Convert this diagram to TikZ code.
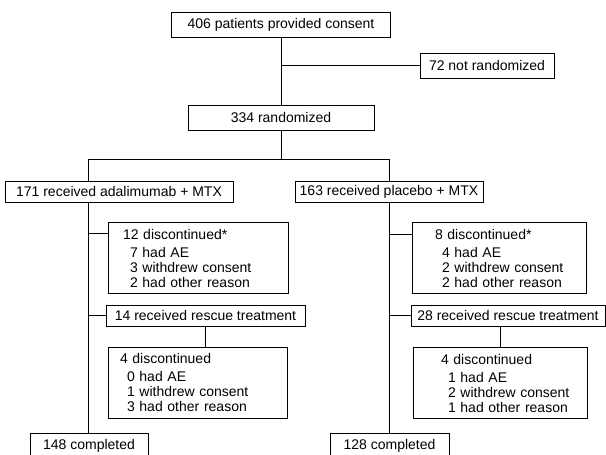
\documentclass[tikz,border=0pt]{standalone}
\usepackage{fontspec}
\setmainfont{Liberation Sans}
\usetikzlibrary{positioning}
\newcommand{\ind}[1]{\mbox{\hspace*{7pt}#1}}

\begin{document}
\begin{tikzpicture}[x=1pt,y=-1pt,line width=0.8pt,
  font=\fontsize{14}{15}\selectfont,
  box/.style={draw,inner sep=0pt,minimum height=21pt},
  disc/.style={draw,align=left,inner ysep=0pt,minimum height=71pt}]
\useasboundingbox (0,0) rectangle (606,455);
% top of the chart
\node[box,minimum width=219pt,minimum height=25pt] (consent) at (281,24.5) {406 patients provided consent};
\node[box,minimum width=134pt,minimum height=25pt] (notrand) at (487,65.5) {72 not randomized};
\node[box,minimum width=186pt,minimum height=25pt] (rand) at (281,117.5) {334 randomized};
\coordinate (split) at (281,159);
\coordinate (trA) at (88,159);
\coordinate (trB) at (389,159);
% two arms
\node[box,minimum width=228pt] (ada) at (119,191.5) {171 received adalimumab + MTX};
\node[box,minimum width=188pt] (plac) at (389,191.5) {163 received placebo + MTX};
\node[disc,minimum width=180pt,text width=150pt,inner xsep=15pt] (discA) at (198,258)
  {12 discontinued*\\[3pt]\ind{7 had AE}\\\ind{3 withdrew consent}\\\ind{2 had other reason}};
\node[box,minimum width=199pt] (rescA) at (205.5,315.5) {14 received rescue treatment};
\node[disc,minimum width=179pt,text width=155pt,inner xsep=12pt] (discAA) at (197.5,382.5)
  {4 discontinued\\[3pt]\ind{0 had AE}\\\ind{1 withdrew consent}\\\ind{3 had other reason}};
\node[box,minimum width=118pt,minimum height=26pt] (compA) at (89,446) {148 completed};
\node[disc,minimum width=174pt,text width=128pt,inner xsep=23pt] (discB) at (499,258)
  {8 discontinued*\\[3pt]\ind{4 had AE}\\\ind{2 withdrew consent}\\\ind{2 had other reason}};
\node[box,minimum width=194pt] (rescB) at (508,315.5) {28 received rescue treatment};
\node[disc,minimum width=174pt,text width=118pt,inner xsep=28pt] (discBB) at (500,383)
  {4 discontinued\\[3pt]\ind{1 had AE}\\\ind{2 withdrew consent}\\\ind{1 had other reason}};
\node[box,minimum width=119pt,minimum height=26pt] (compB) at (389.5,446) {128 completed};
% connectors
\draw (consent.south) -- (rand.north);
\draw (consent.south |- notrand.west) -- (notrand.west);
\draw (rand.south) -- (split);
\draw (trA |- ada.north) -- (trA) -- (trB) -- (trB |- plac.north);
\draw (trA |- ada.south) -- (trA |- compA.north);
\draw (trB |- plac.south) -- (trB |- compB.north);
\draw (trA |- discA.165) -- (discA.165);
\draw (trA |- rescA.west) -- (rescA.west);
\draw (rescA.south) -- (rescA.south |- discAA.north);
\draw (trB |- discB.165) -- (discB.165);
\draw (trB |- rescB.west) -- (rescB.west);
\draw (discBB.north |- rescB.south) -- (discBB.north);
\end{tikzpicture}
\end{document}
